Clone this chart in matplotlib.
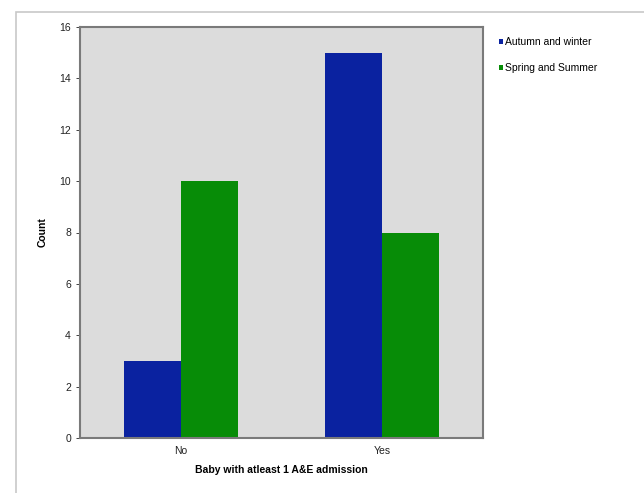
import numpy as np
import matplotlib
matplotlib.use('Agg')
import matplotlib.pyplot as plt
from matplotlib.patches import Rectangle

plt.rcParams['font.family'] = ['Liberation Sans', 'DejaVu Sans']

# counts of babies by season of birth
categories = ['No', 'Yes']
autumn_winter = [3, 15]
spring_summer = [10, 8]
series_names = ['Autumn and winter', 'Spring and Summer']

x = np.arange(len(categories))
width = 0.283

fig = plt.figure(figsize=(6.44, 4.93), dpi=100)
# light frame round the whole chart
fig.patches.append(Rectangle((16 / 644, -0.02), 1.0, 0.998 - 11 / 493 + 0.02,
                             transform=fig.transFigure, fill=False,
                             edgecolor='#c8c8c8', linewidth=1.2))

ax = fig.add_axes([80 / 644, 55 / 493, 403 / 644, 411 / 493])
ax.set_facecolor('#dcdcdc')

rects1 = ax.bar(x - width / 2, autumn_winter, width=width, color='#0a22a0',
                label=series_names[0])
rects2 = ax.bar(x + width / 2, spring_summer, width=width, color='#078c07',
                label=series_names[1])

ax.set_xlim(-0.5, 1.5)
ax.set_ylim(0, 16)
ax.set_yticks(np.arange(0, 17, 2))
ax.set_xticks(x)
ax.set_xticklabels(categories)
ax.tick_params(axis='both', labelsize=7.5, colors='#222222', length=3,
               width=0.6)
ax.tick_params(axis='x', length=0, pad=6)
for sp in ax.spines.values():
    sp.set_color('#7a7a7a')
    sp.set_linewidth(1.5)

ax.set_ylabel('Count', fontsize=7.5, fontweight='bold', labelpad=8)
ax.set_xlabel('Baby with atleast 1 A&E admission', fontsize=7.5,
              fontweight='bold', labelpad=6)

ax.legend(loc='upper left', bbox_to_anchor=(1.03, 0.985), frameon=False,
          fontsize=7.5, handlelength=0.35, handleheight=0.35,
          handletextpad=0.2, labelspacing=1.5, borderaxespad=0)

plt.savefig('out.png', dpi=100)
